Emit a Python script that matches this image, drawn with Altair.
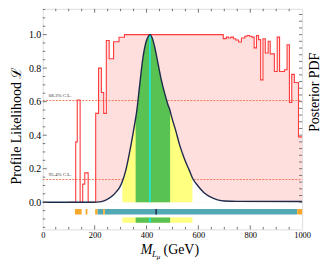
import altair as alt
import pandas as pd

# ---------------- data ----------------
# profile likelihood (step histogram): left edges of steps and values
prof_x = [100, 127, 133, 144, 154, 162, 175, 204, 215, 226, 235, 245, 256, 273, 294, 315,
          696, 708, 716, 725, 735, 744, 755, 766, 779, 788, 797, 806, 815, 824, 832, 840,
          849, 858, 869, 877, 893, 904, 913, 932, 942, 951, 960, 970, 986, 1000]
prof_y = [0.0, 0.36, 0.61, 0.0, 0.108, 0.175, 0.0, 0.53, 0.80, 0.655, 0.53, 0.965, 0.856, 0.957, 0.984, 1.0,
          0.976, 0.985, 0.98, 0.985, 0.975, 0.968, 0.956, 0.98, 0.99, 0.995, 0.99, 0.985, 0.921, 0.995, 0.97, 0.73,
          0.975, 0.89, 0.96, 0.885, 0.78, 0.985, 0.78, 0.79, 0.94, 0.595, 0.763, 0.714, 0.39, 0.39]
pink_from = 200  # pink shading only behind the main body of the profile

# posterior PDF (normalised to peak 1)
pdf_x = [0, 180, 207, 226, 245, 271, 284, 297, 307, 320, 335, 348, 358, 362, 373, 386, 399, 407, 414, 422,
         431, 444, 457, 469, 482, 491, 495, 514, 527, 546, 565, 577, 597, 623, 648, 674, 700, 750, 1000]
pdf_y = [0, 0, 0.001, 0.004, 0.014, 0.041, 0.063, 0.09, 0.125, 0.19, 0.30, 0.41, 0.50, 0.54, 0.69, 0.86, 0.96, 0.99, 1.0, 0.98,
         0.93, 0.83, 0.73, 0.655, 0.585, 0.545, 0.52, 0.42, 0.345, 0.26, 0.19, 0.145, 0.10, 0.055, 0.03, 0.014, 0.007, 0.005, 0.004]

ci95 = [307, 577]
ci68 = [358, 491]
best_fit = 413
mean_val = 437

cl_levels = [0.6065, 0.1353]
cl_labels = ["68.3% C.L.", "95.4% C.L."]

orange_lo = [124, 165, 202, 233, 981]
orange_hi = [150, 172, 211, 239, 1000]
teal_lo = [211, 239]
teal_hi = [233, 981]

x_labels = [0, 200, 400, 600, 800, 1000]
y_labels = [0.0, 0.2, 0.4, 0.6, 0.8, 1.0]
x_major_ticks = [200, 400, 600, 800]
x_minor_ticks = [50, 100, 150, 250, 300, 350, 450, 500, 550, 650, 700, 750, 850, 900, 950]
y_minor_ticks = [-0.15, -0.1, -0.05, 0.05, 0.1, 0.15, 0.25, 0.3, 0.35, 0.45, 0.5, 0.55,
                 0.65, 0.7, 0.75, 0.85, 0.9, 0.95, 1.05, 1.1, 1.15]
y_right_ticks = [round(i * 0.04, 2) for i in range(29)]

# ---------------- layout ----------------
W, H = 261, 222
SERIF = "Liberation Serif, Times New Roman, DejaVu Serif"

XS = alt.Scale(domain=[0, 1000], nice=False, zero=False)
YS = alt.Scale(domain=[-0.162, 1.154], nice=False, zero=False)

XA = alt.Axis(values=x_labels, format="d", ticks=False, domain=False, grid=False, labelFont=SERIF,
              labelFontSize=8.5, labelColor="black", labelPadding=1, title=None, labelFlush=False)
YA = alt.Axis(values=y_labels, format=".1f", ticks=False, domain=False, grid=False,
              labelFont=SERIF, labelFontSize=10, labelColor="black", labelPadding=2,
              title="Profile Likelihood \u2112", titleFont=SERIF, titleFontSize=14,
              titleFontWeight="normal", titleColor="black", titleAngle=270,
              titleX=-22.5, titleY=117, titleAlign="center", titleBaseline="alphabetic")


def ex(f="x"):
    return alt.X(f"{f}:Q", scale=XS, axis=XA)


def ey(f="y"):
    return alt.Y(f"{f}:Q", scale=YS, axis=YA)


prof = pd.DataFrame({"x": prof_x, "y": prof_y})
fill = prof.copy()
fill.loc[fill["x"] < pink_from, "y"] = 0.0
pdf = pd.DataFrame({"x": pdf_x, "y": pdf_y})
peak = max(pdf_y)

pink = alt.Chart(fill).mark_area(interpolate="step-after", color="#ffdede").encode(
    x=ex(), y=ey(), y2=alt.datum(0))

cl = pd.DataFrame({"y": cl_levels, "t": cl_labels})
cl_lines = alt.Chart(cl).mark_rule(color="#f07a5a", strokeWidth=1, strokeDash=[2, 1.3]).encode(
    y=ey(), x=alt.value(0), x2=alt.value(W))
cl_text = alt.Chart(cl).mark_text(font=SERIF, fontSize=5, color="#333", align="left",
                                  baseline="bottom", dy=-2.5).encode(
    y=ey(), x=alt.value(6), text="t:N")

white = alt.Chart(pdf).mark_area(interpolate="monotone", color="white").encode(
    x=ex(), y=ey(), y2=alt.datum(0))
yellow = alt.Chart(pdf).transform_filter(
    (alt.datum.x >= ci95[0]) & (alt.datum.x <= ci95[1])).mark_area(
    interpolate="monotone", color="#ffff80").encode(x=ex(), y=ey(), y2=alt.datum(0))
green = alt.Chart(pdf).transform_filter(
    (alt.datum.x >= ci68[0]) & (alt.datum.x <= ci68[1])).mark_area(
    interpolate="monotone", color="#58c352").encode(x=ex(), y=ey(), y2=alt.datum(0))

red = alt.Chart(prof).mark_line(interpolate="step-after", color="#ff3b3b", strokeWidth=1.1).encode(
    x=ex(), y=ey())

bf = pd.DataFrame({"x": [best_fit], "y": [0.0], "y2": [peak]})
cyan = alt.Chart(bf).mark_rule(color="#1ee8e8", strokeWidth=1.6).encode(
    x=ex(), y=ey(), y2="y2:Q")

curve = alt.Chart(pdf).mark_line(interpolate="monotone", color="#1d2b4a", strokeWidth=1.4).encode(
    x=ex(), y=ey())

# bottom bars
B1, B1b = 201.5, 207
B2, B2b = 210, 215.2
teal = pd.DataFrame({"x": teal_lo, "x2": teal_hi})
orng = pd.DataFrame({"x": orange_lo, "x2": orange_hi})
bar_teal = alt.Chart(teal).mark_rect(color="#52a9b3").encode(
    x=ex(), x2="x2:Q", y=alt.value(B1), y2=alt.value(B1b))
bar_orng = alt.Chart(orng).mark_rect(color="#f5a82a").encode(
    x=ex(), x2="x2:Q", y=alt.value(B1), y2=alt.value(B1b))
mv = pd.DataFrame({"x": [mean_val]})
bar_mean = alt.Chart(mv).mark_rule(color="#1d2b4a", strokeWidth=1.5).encode(
    x=ex(), y=alt.value(B1), y2=alt.value(B1b))
c95 = pd.DataFrame({"x": [ci95[0]], "x2": [ci95[1]]})
c68 = pd.DataFrame({"x": [ci68[0]], "x2": [ci68[1]]})
bar_y = alt.Chart(c95).mark_rect(color="#ffff80").encode(
    x=ex(), x2="x2:Q", y=alt.value(B2), y2=alt.value(B2b))
bar_g = alt.Chart(c68).mark_rect(color="#58c352").encode(
    x=ex(), x2="x2:Q", y=alt.value(B2), y2=alt.value(B2b))
bar_c = alt.Chart(bf).mark_rule(color="#1ee8e8", strokeWidth=1.6).encode(
    x=ex(), y=alt.value(B2), y2=alt.value(B2b))

# inward ticks
TC = "#555"
xmaj = pd.DataFrame({"x": x_major_ticks})
xmin = pd.DataFrame({"x": x_minor_ticks})
ymaj = pd.DataFrame({"y": y_labels})
ymin = pd.DataFrame({"y": y_minor_ticks})
yr = pd.DataFrame({"y": y_right_ticks})
ticks = [
    alt.Chart(xmaj).mark_rule(color=TC, strokeWidth=0.8).encode(x=ex(), y=alt.value(H), y2=alt.value(H - 4)),
    alt.Chart(xmin).mark_rule(color=TC, strokeWidth=0.8).encode(x=ex(), y=alt.value(H), y2=alt.value(H - 2.5)),
    alt.Chart(xmaj).mark_rule(color=TC, strokeWidth=0.8).encode(x=ex(), y=alt.value(0), y2=alt.value(4)),
    alt.Chart(xmin).mark_rule(color=TC, strokeWidth=0.8).encode(x=ex(), y=alt.value(0), y2=alt.value(2.5)),
    alt.Chart(ymaj).mark_rule(color=TC, strokeWidth=0.8).encode(y=ey(), x=alt.value(0), x2=alt.value(4)),
    alt.Chart(ymin).mark_rule(color=TC, strokeWidth=0.8).encode(y=ey(), x=alt.value(0), x2=alt.value(2.5)),
    alt.Chart(yr).mark_rule(color=TC, strokeWidth=0.8).encode(y=ey(), x=alt.value(W), x2=alt.value(W - 3)),
]

# titles
one = pd.DataFrame({"k": [0]})
right_title = alt.Chart(one).mark_text(font=SERIF, fontSize=14, angle=270, align="center",
                                       baseline="alphabetic", color="black").encode(
    x=alt.value(278), y=alt.value(84), text=alt.value("Posterior PDF"))
TY = 247
xt_M = alt.Chart(one).mark_text(font=SERIF, fontSize=14, fontStyle="italic", align="left",
                                baseline="alphabetic", color="black").encode(
    x=alt.value(98.5), y=alt.value(TY), text=alt.value("M"))
xt_L = alt.Chart(one).mark_text(font=SERIF, fontSize=9, fontStyle="italic", align="left",
                                baseline="alphabetic", color="black").encode(
    x=alt.value(109.8), y=alt.value(TY + 3), text=alt.value("L"))
xt_mu = alt.Chart(one).mark_text(font=SERIF, fontSize=7, fontStyle="italic", align="left",
                                 baseline="alphabetic", color="black").encode(
    x=alt.value(114.6), y=alt.value(TY + 5), text=alt.value("\u03bc"))
xt_gev = alt.Chart(one).mark_text(font=SERIF, fontSize=14, align="left",
                                  baseline="alphabetic", color="black").encode(
    x=alt.value(121.5), y=alt.value(TY), text=alt.value("(GeV)"))

chart = alt.layer(
    pink, cl_lines, cl_text, white, yellow, green, red, cyan, curve,
    bar_teal, bar_orng, bar_mean, bar_y, bar_g, bar_c,
    *ticks, right_title, xt_M, xt_L, xt_mu, xt_gev,
).properties(
    width=W, height=H,
    autosize=alt.AutoSizeParams(type="none"),
    padding={"left": 35, "top": 0, "right": 20, "bottom": 31},
).configure_view(stroke="#555", strokeWidth=1).configure(background="white")

chart.save("out.html", embed_options={"renderer": "svg", "actions": False})
